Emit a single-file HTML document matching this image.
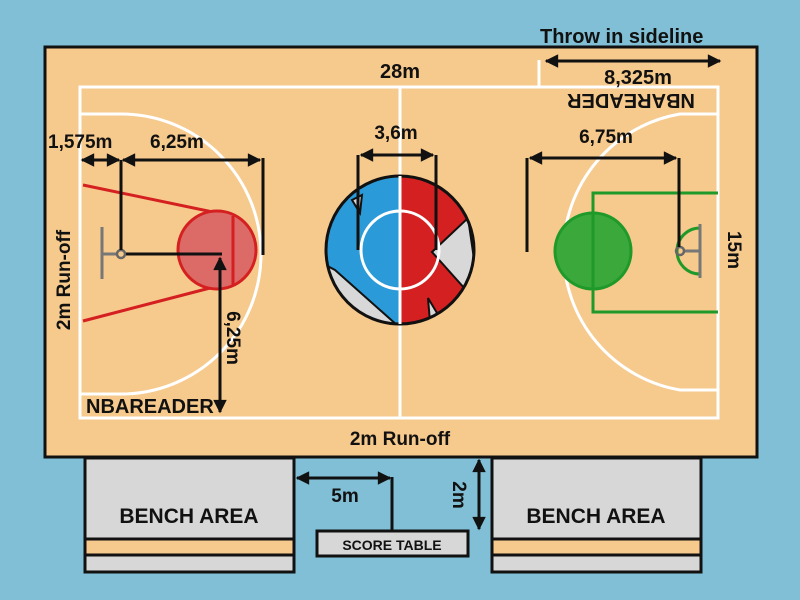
<!DOCTYPE html>
<html><head><meta charset="utf-8"><style>
html,body{margin:0;padding:0;background:#80bfd5;}
svg{display:block;}
text{font-family:"Liberation Sans",sans-serif;font-weight:bold;fill:#111;}
</style></head><body>
<svg width="800" height="600" viewBox="0 0 800 600" xmlns="http://www.w3.org/2000/svg">
<defs>
<marker id="a" viewBox="0 0 10 10" refX="9" refY="5" markerWidth="6.5" markerHeight="4.5" orient="auto-start-reverse"><path d="M0,0 L10,5 L0,10 z" fill="#111"/></marker>
</defs>
<rect x="0" y="0" width="800" height="600" fill="#80bfd5"/>
<rect x="45" y="47" width="712" height="410" fill="#f6c98c" stroke="#111" stroke-width="3"/>
<rect x="80" y="87" width="638" height="331" fill="none" stroke="#fff" stroke-width="3"/>
<line x1="400" y1="87" x2="400" y2="418" stroke="#fff" stroke-width="3"/>
<line x1="539" y1="60" x2="539" y2="87" stroke="#fff" stroke-width="3"/>
<path d="M80,114 L121,114 A140,140 0 0 1 121,394 L80,394" fill="none" stroke="#fff" stroke-width="3"/>
<path d="M718,114 L680,114 A140,140 0 0 0 680,390 L718,390" fill="none" stroke="#fff" stroke-width="3"/>
<line x1="83" y1="185" x2="232" y2="216" stroke="#d42020" stroke-width="3"/>
<line x1="83" y1="321" x2="210" y2="288" stroke="#d42020" stroke-width="3"/>
<circle cx="217" cy="250" r="39" fill="#dc6a66" stroke="#d42020" stroke-width="3"/>
<line x1="233" y1="216" x2="233" y2="286" stroke="#d42020" stroke-width="3"/>
<line x1="102" y1="227" x2="102" y2="279" stroke="#777" stroke-width="3"/>
<line x1="102" y1="254" x2="117" y2="254" stroke="#777" stroke-width="3"/>
<circle cx="121" cy="254" r="4" fill="none" stroke="#666" stroke-width="2.5"/>
<line x1="121" y1="160" x2="121" y2="250" stroke="#111" stroke-width="3"/>
<line x1="126" y1="254" x2="222" y2="254" stroke="#111" stroke-width="3"/>
<line x1="82" y1="160" x2="119" y2="160" stroke="#111" stroke-width="3" marker-start="url(#a)" marker-end="url(#a)"/>
<line x1="123" y1="160" x2="260" y2="160" stroke="#111" stroke-width="3" marker-start="url(#a)" marker-end="url(#a)"/>
<line x1="263" y1="158" x2="263" y2="255" stroke="#111" stroke-width="3"/>
<line x1="220" y1="258" x2="220" y2="412" stroke="#111" stroke-width="3" marker-start="url(#a)" marker-end="url(#a)"/>
<clipPath id="cc"><circle cx="400" cy="250" r="74"/></clipPath>
<g clip-path="url(#cc)">
<rect x="325" y="170" width="75" height="160" fill="#2b9ad8"/>
<rect x="400" y="170" width="75" height="160" fill="#d42020"/>
<polygon points="320,262 335,270 398,326 320,330" fill="#d8d8d8" stroke="#111" stroke-width="2"/>
<polygon points="432,252 468,218 480,300 466,290" fill="#d8d8d8" stroke="#111" stroke-width="2"/>
<polygon points="428,298 440,318 430,322" fill="#d8d8d8" stroke="#111" stroke-width="2"/>
<polygon points="352,200 362,195 360,213" fill="#d8d8d8" stroke="#111" stroke-width="2"/>
</g>
<circle cx="400" cy="250" r="74" fill="none" stroke="#111" stroke-width="3"/>
<circle cx="400" cy="250" r="39" fill="none" stroke="#fff" stroke-width="3"/>
<line x1="400" y1="176" x2="400" y2="324" stroke="#fff" stroke-width="3"/>
<line x1="358" y1="155" x2="358" y2="250" stroke="#111" stroke-width="3"/>
<line x1="436" y1="155" x2="436" y2="250" stroke="#111" stroke-width="3"/>
<line x1="361" y1="155" x2="433" y2="155" stroke="#111" stroke-width="3" marker-start="url(#a)" marker-end="url(#a)"/>
<path d="M718,193 L593,193 L593,312 L718,312" fill="none" stroke="#1f9a2a" stroke-width="3"/>
<circle cx="593" cy="251" r="38" fill="#3aa83a" stroke="#1f9a2a" stroke-width="3"/>
<line x1="593" y1="213" x2="593" y2="289" stroke="#1f9a2a" stroke-width="3"/>
<path d="M700,228 A22,22 0 0 0 700,274 Z" fill="none" stroke="#1f9a2a" stroke-width="3"/>
<line x1="700" y1="224" x2="700" y2="278" stroke="#777" stroke-width="3"/>
<line x1="684" y1="251" x2="700" y2="251" stroke="#777" stroke-width="3"/>
<circle cx="680" cy="251" r="4" fill="none" stroke="#666" stroke-width="2.5"/>
<line x1="527" y1="158" x2="527" y2="252" stroke="#111" stroke-width="3"/>
<line x1="679" y1="158" x2="679" y2="247" stroke="#111" stroke-width="3"/>
<line x1="530" y1="158" x2="676" y2="158" stroke="#111" stroke-width="3" marker-start="url(#a)" marker-end="url(#a)"/>
<line x1="546" y1="61" x2="720" y2="61" stroke="#111" stroke-width="3" marker-start="url(#a)" marker-end="url(#a)"/>
<text x="540" y="43" font-size="20">Throw in sideline</text>
<text x="400" y="78" font-size="20" text-anchor="middle">28m</text>
<text x="638" y="84" font-size="20" text-anchor="middle">8,325m</text>
<text x="0" y="0" font-size="20" text-anchor="middle" transform="translate(631,94) rotate(180)" style="font-weight:900">NBAREADER</text>
<text x="48" y="148" font-size="19">1,575m</text>
<text x="150" y="148" font-size="19">6,25m</text>
<text x="396" y="139" font-size="19" text-anchor="middle">3,6m</text>
<text x="606" y="143" font-size="19" text-anchor="middle">6,75m</text>
<text x="0" y="0" font-size="19" text-anchor="middle" transform="translate(70,280) rotate(-90)">2m Run-off</text>
<text x="0" y="0" font-size="19" text-anchor="middle" transform="translate(227,338) rotate(90)">6,25m</text>
<text x="0" y="0" font-size="19" text-anchor="middle" transform="translate(728,250) rotate(90)">15m</text>
<text x="86" y="413" font-size="20" style="font-weight:900">NBAREADER</text>
<text x="400" y="445" font-size="19" text-anchor="middle">2m Run-off</text>
<g stroke="#111" stroke-width="3">
<rect x="85" y="458" width="209" height="114" fill="#d7d7d7"/>
<rect x="85" y="539" width="209" height="16" fill="#f6c98c"/>
<rect x="492" y="458" width="209" height="114" fill="#d7d7d7"/>
<rect x="492" y="539" width="209" height="16" fill="#f6c98c"/>
<rect x="317" y="531" width="151" height="25" fill="#d7d7d7"/>
</g>
<text x="189" y="523" font-size="21" text-anchor="middle">BENCH AREA</text>
<text x="596" y="523" font-size="21" text-anchor="middle">BENCH AREA</text>
<text x="392" y="550" font-size="14" text-anchor="middle">SCORE TABLE</text>
<line x1="297" y1="478" x2="390" y2="478" stroke="#111" stroke-width="3" marker-start="url(#a)" marker-end="url(#a)"/>
<line x1="392" y1="477" x2="392" y2="531" stroke="#111" stroke-width="3"/>
<text x="345" y="502" font-size="19" text-anchor="middle">5m</text>
<line x1="479" y1="460" x2="479" y2="529" stroke="#111" stroke-width="3" marker-start="url(#a)" marker-end="url(#a)"/>
<text x="0" y="0" font-size="19" text-anchor="middle" transform="translate(453,495) rotate(90)">2m</text>
</svg>
</body></html>
